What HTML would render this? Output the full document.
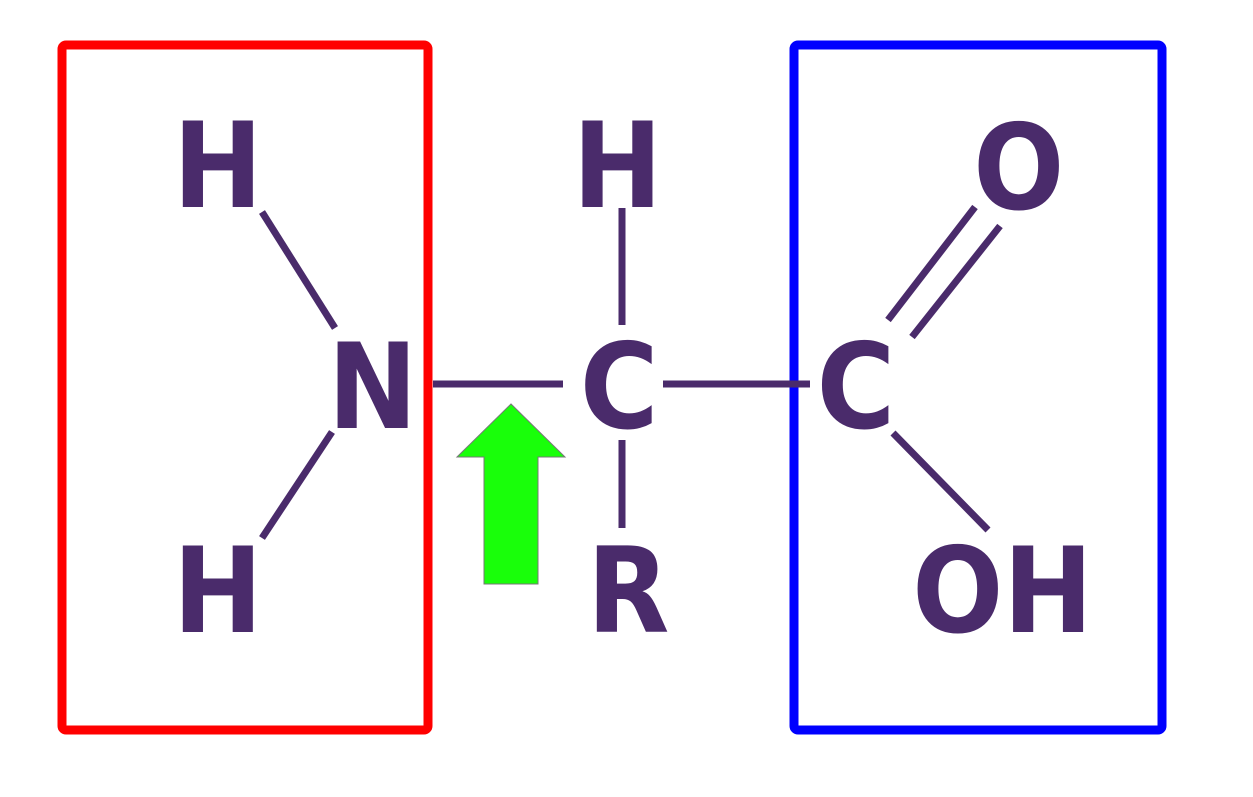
<!DOCTYPE html>
<html><head><style>html,body{margin:0;padding:0;background:#fff;}svg{display:block}</style></head>
<body>
<svg width="1253" height="797" viewBox="0 0 1253 797" xmlns="http://www.w3.org/2000/svg">
<rect x="0" y="0" width="1253" height="797" fill="#fff"/>
<rect x="62" y="45" width="366" height="685" rx="4" fill="none" stroke="#ff0000" stroke-width="9"/>
<rect x="794" y="45" width="368" height="685" rx="4" fill="none" stroke="#0000ff" stroke-width="9"/>
<g stroke="#4a2b6b" stroke-width="7" stroke-linecap="butt">
<line x1="262" y1="212" x2="335" y2="328"/>
<line x1="332" y1="432" x2="262" y2="538"/>
<line x1="433" y1="384" x2="563" y2="384"/>
<line x1="622" y1="208" x2="622" y2="325"/>
<line x1="622" y1="440" x2="622" y2="528"/>
<line x1="663" y1="384" x2="810" y2="384"/>
<line x1="888" y1="320" x2="975" y2="207"/>
<line x1="912" y1="337" x2="1000" y2="226"/>
<line x1="893" y1="433" x2="988" y2="530"/>
</g>
<polygon points="457,457 511,404 565,457 538,457 538,584 484,584 484,457" fill="#19ff0a" stroke="#777" stroke-width="1"/>
<g font-family="'DejaVu Sans','Liberation Sans',sans-serif" font-weight="bold" font-size="119" fill="#4a2b6b" text-anchor="middle">
<g transform="scale(0.9,1)">
<text x="242" y="207">H</text>
<text x="414" y="428">N</text>
<text x="242" y="632">H</text>
<text x="686" y="207">H</text>
<text x="688" y="428">C</text>
<text x="698" y="632">R</text>
<text x="1132" y="209">O</text>
<text x="951" y="428">C</text>
<text x="1114" y="632">OH</text>
</g>
</g>
</svg>
</body></html>
